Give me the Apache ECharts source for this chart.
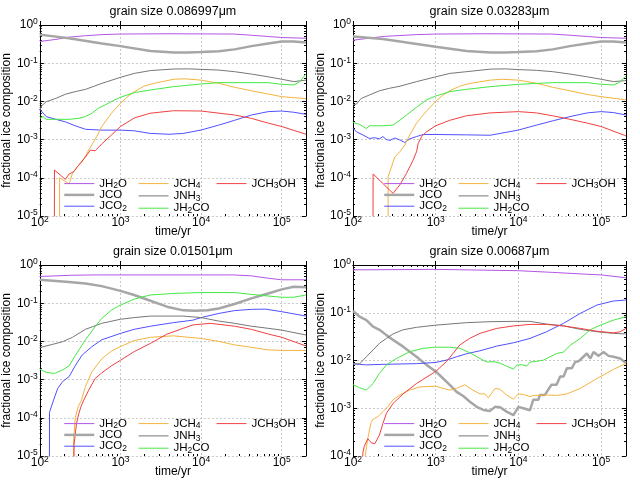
<!DOCTYPE html>
<html>
<head>
<meta charset="utf-8">
<script src="https://cdn.jsdelivr.net/npm/echarts@6/dist/echarts.min.js"></script>
<style>
html, body { margin: 0; padding: 0; background: #fff; }
#main { width: 640px; height: 480px; }
</style>
</head>
<body>
<div id="main"></div>
<script>
// ---- data: [time/yr, fraction] ----
var p1H2O = [[100,0.37],[158,0.42],[230,0.48],[370,0.525],[590,0.56],[1000,0.58],[4000,0.59],[25000,0.58],[42000,0.54],[68000,0.5],[100000,0.47],[200000,0.45]];
var p1CO = [[100,0.56],[230,0.45],[590,0.33],[1000,0.28],[2350,0.21],[4600,0.19],[7000,0.19],[10000,0.195],[16600,0.205],[26000,0.23],[42000,0.28],[68000,0.33],[100000,0.37],[141000,0.37],[200000,0.35]];
var p1CO2 = [[100,6.2e-3],[120,4.0e-3],[158,3.4e-3],[209,2.9e-3],[275,2.3e-3],[370,1.86e-3],[590,1.77e-3],[1000,1.77e-3],[1480,1.7e-3],[2350,1.45e-3],[4000,1.38e-3],[6000,1.45e-3],[10000,1.78e-3],[16600,2.4e-3],[26000,3.2e-3],[42000,4.4e-3],[68000,5.4e-3],[100000,5.6e-3],[141000,5.2e-3],[200000,4.6e-3]];
var p1CH4 = [[175,1e-7],[176,1.0e-4],[231,6.9e-5],[254,1.3e-4],[292,1.95e-4],[335,2.6e-4],[404,5.3e-4],[509,1.2e-3],[586,2.2e-3],[774,4.9e-3],[1000,8.9e-3],[1230,0.0133],[1480,0.0178],[1950,0.025],[2570,0.0295],[4550,0.038],[6300,0.039],[10000,0.036],[16600,0.0297],[26000,0.0234],[42000,0.019],[68000,0.0156],[100000,0.0133],[200000,0.0118]];
var p1NH3 = [[100,6.0e-3],[105,7.6e-3],[120,9.8e-3],[158,0.012],[209,0.0155],[275,0.018],[370,0.0207],[590,0.0297],[1000,0.0427],[1480,0.054],[2350,0.064],[4600,0.0705],[7000,0.071],[10000,0.069],[16600,0.066],[26000,0.06],[42000,0.052],[68000,0.044],[100000,0.038],[141000,0.033],[200000,0.036]];
var p1H2CO = [[100,3.6e-3],[110,4.0e-3],[120,3.4e-3],[145,3.4e-3],[230,3.4e-3],[305,3.6e-3],[368,4.0e-3],[443,4.9e-3],[533,6.6e-3],[646,8.1e-3],[850,0.011],[1000,0.0128],[1480,0.017],[2350,0.0199],[4550,0.0243],[10000,0.0285],[16600,0.031],[68000,0.031],[100000,0.028],[141000,0.027],[165000,0.032],[200000,0.052]];
var p1CH3OH = [[151,1e-7],[152,1.6e-4],[207,9.1e-5],[231,1.26e-4],[265,1.45e-4],[292,1.95e-4],[368,3.5e-4],[423,5.3e-4],[486,5.1e-4],[586,7.7e-4],[774,1.32e-3],[1000,2.2e-3],[1490,3.7e-3],[2330,4.9e-3],[4550,5.7e-3],[10000,5.6e-3],[26000,4.4e-3],[42000,3.6e-3],[68000,2.7e-3],[100000,2.2e-3],[200000,1.38e-3]];

var p2H2O = [[100,0.4],[230,0.5],[590,0.56],[1000,0.58],[4000,0.59],[25000,0.58],[42000,0.54],[68000,0.5],[100000,0.47],[200000,0.45]];
var p2CO = [[100,0.5],[230,0.43],[590,0.32],[1000,0.27],[2350,0.21],[4600,0.19],[7000,0.19],[10000,0.195],[16600,0.205],[26000,0.23],[42000,0.28],[68000,0.33],[100000,0.37],[141000,0.37],[200000,0.35]];
var p2CO2 = [[100,2.0e-3],[110,1.6e-3],[132,1.32e-3],[158,1.07e-3],[183,1.12e-3],[209,1.05e-3],[230,1.2e-3],[254,1.0e-3],[278,0.95e-3],[320,1.1e-3],[368,0.98e-3],[423,0.84e-3],[486,1.05e-3],[586,1.2e-3],[706,1.36e-3],[1000,1.36e-3],[2350,1.33e-3],[4550,1.3e-3],[6000,1.45e-3],[10000,1.78e-3],[16600,2.4e-3],[26000,3.1e-3],[42000,4.0e-3],[68000,5.0e-3],[100000,5.4e-3],[141000,5.1e-3],[200000,4.4e-3]];
var p2CH4 = [[265,1e-7],[266,1.07e-4],[292,1.95e-4],[320,3.5e-4],[368,4.8e-4],[423,7.2e-4],[486,1.32e-3],[586,2.7e-3],[706,4.4e-3],[850,7e-3],[1000,0.01],[1230,0.0147],[1480,0.019],[1950,0.025],[2570,0.0295],[4550,0.036],[6300,0.038],[10000,0.036],[16600,0.0297],[26000,0.0234],[42000,0.019],[68000,0.0152],[100000,0.0133],[200000,0.011]];
var p2NH3 = [[100,8.1e-3],[110,8.5e-3],[126,0.012],[158,0.0147],[209,0.019],[275,0.022],[370,0.025],[590,0.033],[1000,0.044],[1480,0.054],[2350,0.06],[4600,0.07],[7000,0.071],[10000,0.068],[16600,0.065],[26000,0.06],[42000,0.052],[68000,0.044],[100000,0.038],[141000,0.033],[200000,0.035]];
var p2H2CO = [[100,2.8e-3],[120,2.5e-3],[145,1.94e-3],[158,2.3e-3],[230,2.3e-3],[305,2.4e-3],[368,3.2e-3],[443,4.4e-3],[586,7.0e-3],[775,0.011],[1000,0.0138],[1480,0.018],[2350,0.0207],[4550,0.0243],[10000,0.028],[26000,0.031],[68000,0.031],[100000,0.028],[141000,0.027],[165000,0.031],[200000,0.046]];
var p2CH3OH = [[174,1e-7],[175,1.26e-4],[305,3.9e-5],[368,6.5e-5],[443,1.3e-4],[533,2.9e-4],[586,4.8e-4],[614,7.9e-4],[676,1.2e-3],[774,1.6e-3],[1000,2.3e-3],[1480,3.2e-3],[2350,4.2e-3],[4550,5.0e-3],[10000,5.4e-3],[16600,5.0e-3],[26000,4.2e-3],[42000,3.4e-3],[68000,2.7e-3],[100000,2.2e-3],[200000,1.25e-3]];

var p3H2O = [[100,0.5],[250,0.54],[500,0.55],[25000,0.55],[42000,0.52],[68000,0.45],[100000,0.41],[200000,0.41]];
var p3CO = [[100,0.41],[230,0.36],[368,0.33],[586,0.28],[1000,0.21],[1480,0.164],[2350,0.116],[3770,0.081],[6000,0.065],[8500,0.063],[12000,0.065],[16600,0.073],[26000,0.095],[42000,0.134],[68000,0.18],[100000,0.23],[141000,0.27],[200000,0.26]];
var p3CO2 = [[131,1e-7],[132,1.4e-4],[148,2.9e-4],[167,5.9e-4],[192,8.9e-4],[231,1.2e-3],[278,2.4e-3],[335,4.4e-3],[443,7.3e-3],[586,0.011],[1000,0.0162],[1480,0.0207],[2360,0.025],[4540,0.031],[7920,0.036],[10000,0.042],[16600,0.054],[26000,0.064],[42000,0.069],[63000,0.07],[100000,0.06],[200000,0.046]];
var p3CH4 = [[261,1e-7],[262,2.5e-5],[275,1e-4],[300,2e-4],[329,2.9e-4],[368,6.6e-4],[443,1.6e-3],[586,3.5e-3],[775,5.6e-3],[1000,7.3e-3],[1480,0.0105],[2360,0.0128],[4540,0.014],[7900,0.0125],[10000,0.012],[16600,0.01],[26000,0.0081],[42000,0.007],[68000,0.006],[100000,0.0058],[200000,0.0058]];
var p3NH3 = [[100,6.9e-3],[145,8.4e-3],[192,9.8e-3],[254,0.0128],[368,0.0207],[586,0.0297],[1000,0.038],[1480,0.042],[2350,0.046],[6000,0.046],[10000,0.042],[16600,0.034],[26000,0.0297],[42000,0.025],[68000,0.022],[100000,0.0197],[200000,0.0147]];
var p3H2CO = [[100,1.86e-3],[120,1.55e-3],[152,1.45e-3],[192,1.8e-3],[231,2.3e-3],[278,4.4e-3],[368,0.011],[486,0.0243],[586,0.04],[774,0.066],[1000,0.089],[1480,0.128],[2350,0.164],[4550,0.18],[10000,0.19],[26000,0.19],[42000,0.17],[100000,0.143],[141000,0.143],[200000,0.164]];
var p3CH3OH = [[265,1e-7],[266,2e-5],[285,7e-5],[305,1.3e-4],[325,2e-4],[351,2.9e-4],[404,5.3e-4],[486,1.07e-3],[586,1.5e-3],[775,2.3e-3],[1000,3.2e-3],[1480,5.4e-3],[2360,8.9e-3],[3770,0.0155],[6000,0.022],[7920,0.027],[13000,0.0297],[26000,0.025],[42000,0.0207],[68000,0.0156],[100000,0.0128],[200000,0.0076]];

var p4H2O = [[100,0.79],[1000,0.81],[10000,0.76],[26000,0.70],[68000,0.64],[100000,0.62],[200000,0.54]];
var p4CO = [[100,0.109],[120,0.083],[145,0.07],[175,0.051],[209,0.044],[254,0.034],[305,0.027],[404,0.0195],[586,0.012],[774,8.1e-3],[1000,5.9e-3],[1230,4.2e-3],[1480,3.1e-3],[1790,2.2e-3],[2150,1.8e-3],[2590,1.37e-3],[3130,1.07e-3],[3770,9.2e-4],[4540,8.8e-4],[5210,1.07e-3],[6000,1.05e-3],[7200,8.5e-4],[8710,7.2e-4],[10000,1.07e-3],[11500,1.0e-3],[13800,9.1e-4],[15100,1.5e-3],[17400,1.5e-3],[18200,1.9e-3],[20900,1.9e-3],[25100,3.1e-3],[28900,3.1e-3],[32000,4.6e-3],[35100,4.6e-3],[38600,6.9e-3],[44300,6.9e-3],[48600,9.3e-3],[53300,9.6e-3],[67300,0.014],[74000,0.011],[81000,0.015],[93400,0.0125],[107000,0.015],[123000,0.0125],[141000,0.012],[170000,0.011],[200000,8.9e-3]];
var p4CO2 = [[100,8.5e-3],[120,8.3e-3],[145,8.1e-3],[230,8.3e-3],[586,8.6e-3],[1000,9.1e-3],[1350,0.0102],[1790,0.012],[2350,0.0138],[3430,0.016],[5460,0.02],[8710,0.0235],[13800,0.029],[21900,0.04],[35100,0.06],[56000,0.097],[89000,0.145],[141000,0.176],[200000,0.185]];
var p4CH4 = [[138,8e-5],[150,2.2e-4],[165,5e-4],[175,5.9e-4],[200,6.7e-4],[231,8.5e-4],[265,1.1e-3],[305,1.5e-3],[368,1.9e-3],[486,2.4e-3],[646,2.8e-3],[1000,2.9e-3],[1230,2.6e-3],[1480,2.4e-3],[1790,2.6e-3],[2240,3.1e-3],[2820,2.4e-3],[3430,2.0e-3],[3950,2.0e-3],[4330,1.65e-3],[5210,2.6e-3],[6000,2.5e-3],[7200,1.9e-3],[8710,1.55e-3],[10000,2.0e-3],[11500,1.95e-3],[13800,1.75e-3],[15100,1.85e-3],[21900,1.9e-3],[28900,1.85e-3],[38600,2.0e-3],[56000,2.6e-3],[89000,4.2e-3],[141000,6.5e-3],[200000,8.7e-3]];
var p4NH3 = [[100,8.5e-3],[120,8.5e-3],[145,0.012],[175,0.0166],[209,0.023],[254,0.029],[305,0.036],[404,0.044],[586,0.0495],[1000,0.055],[2350,0.062],[4540,0.065],[8710,0.066],[13800,0.066],[21900,0.058],[35100,0.053],[56000,0.045],[89000,0.04],[141000,0.037],[200000,0.036]];
var p4H2CO = [[100,3.1e-3],[120,2.7e-3],[145,2.4e-3],[175,3.3e-3],[209,5.4e-3],[254,8.1e-3],[335,0.011],[486,0.0153],[706,0.018],[1000,0.019],[1480,0.019],[1950,0.018],[2570,0.0146],[3430,0.011],[4130,9.3e-3],[4970,9.5e-3],[6000,8.8e-3],[7200,7.6e-3],[8710,6.6e-3],[9550,8.0e-3],[11000,8.2e-3],[12600,7.6e-3],[13800,9.3e-3],[16600,9.6e-3],[20100,0.0102],[24200,0.012],[28900,0.014],[35100,0.015],[42400,0.021],[56000,0.029],[74000,0.044],[98000,0.055],[141000,0.07],[200000,0.083]];
var p4CH3OH = [[130,8e-5],[132,1.2e-4],[137,1.6e-4],[151,2.3e-4],[166,1.9e-4],[183,1.8e-4],[209,2.75e-4],[230,4.8e-4],[254,7.9e-4],[305,1.26e-3],[404,2.0e-3],[586,3.3e-3],[1000,5.9e-3],[1350,9.5e-3],[1620,0.014],[1950,0.021],[2570,0.029],[3430,0.037],[5460,0.047],[8710,0.053],[13800,0.057],[21900,0.057],[35100,0.053],[56000,0.047],[89000,0.041],[141000,0.038],[170000,0.04],[200000,0.047]];

var titles = ['grain size 0.086997\u03bcm', 'grain size 0.03283\u03bcm', 'grain size 0.01501\u03bcm', 'grain size 0.00687\u03bcm'];
var yMins = [1e-5, 1e-5, 1e-5, 1e-4];
var species = ['JH2O', 'JCO', 'JCO2', 'JCH4', 'JNH3', 'JH2CO', 'JCH3OH'];
var panels = [
    [p1H2O, p1CO, p1CO2, p1CH4, p1NH3, p1H2CO, p1CH3OH],
    [p2H2O, p2CO, p2CO2, p2CH4, p2NH3, p2H2CO, p2CH3OH],
    [p3H2O, p3CO, p3CO2, p3CH4, p3NH3, p3H2CO, p3CH3OH],
    [p4H2O, p4CO, p4CO2, p4CH4, p4NH3, p4H2CO, p4CH3OH]
];

var colors = ['#b355e6', '#a6a6a6', '#5050ff', '#f2b440', '#777777', '#44e844', '#f04040'];
var widths = [1, 2.5, 1, 1, 1, 1, 1];
var legendText = {
    JH2O: 'JH{s|2}O', JCO: 'JCO', JCO2: 'JCO{s|2}', JCH4: 'JCH{s|4}',
    JNH3: 'JNH{s|3}', JH2CO: 'JH{s|2}CO', JCH3OH: 'JCH{s|3}OH'
};
var legendCols = [['JH2O', 'JCO', 'JCO2'], ['JCH4', 'JNH3', 'JH2CO'], ['JCH3OH']];
var legendColX = [63, 138, 216];

var FONT = 'Liberation Sans, Arial, sans-serif';

// minor tick positions (log10 space) for the overlaid tick-only axes
function minorTicks(lo, hi) {
    var out = [];
    for (var k = lo; k < hi; k++) {
        for (var m = 2; m <= 9; m++) out.push(k + Math.log10(m));
    }
    return out;
}

function powLabel(v) {
    var e = Math.log10(v);
    var r = Math.round(e);
    if (Math.abs(e - r) > 1e-6) return '';
    return '{b|10}{p|' + r + '}';
}

var labelRich = {
    b: { fontSize: 12, lineHeight: 12, fontFamily: FONT, color: '#000' },
    p: { fontSize: 8.5, lineHeight: 12, fontFamily: FONT, color: '#000', padding: [0, 0, 6, 0] }
};

var chart = echarts.init(document.getElementById('main'));

var grids = [], xAxes = [], yAxes = [], series = [], legends = [];
var XMAX = 2e5;

for (var i = 0; i < 4; i++) {
    var c = i % 2, r = Math.floor(i / 2);
    var gl = 33 + 320 * c, gt = 25 + 240 * r;
    grids.push({ left: gl, top: gt, width: 273, height: 191 });

    var lineSt = { lineStyle: { color: '#000', width: 1 } };
    // bottom log axis
    xAxes.push({
        type: 'log', gridIndex: i, position: 'bottom', min: 100, max: XMAX,
        name: 'time/yr', nameLocation: 'middle', nameGap: 10, nameMoveOverlap: false,
        nameTextStyle: { fontSize: 12, fontFamily: FONT, color: '#000', verticalAlign: 'top' },
        axisLine: lineSt,
        axisTick: { inside: true, length: 4, lineStyle: { color: '#000' } },
        axisLabel: { formatter: powLabel, rich: labelRich, margin: 1, color: '#000' },
        splitLine: { show: true, lineStyle: { color: '#bbbbbb', width: 0.8, type: [2, 2] } }
    });
    // top mirror, carries the panel title
    xAxes.push({
        type: 'log', gridIndex: i, position: 'top', min: 100, max: XMAX,
        name: titles[i], nameLocation: 'middle', nameGap: 7,
        nameTextStyle: { fontSize: 12.5, fontFamily: FONT, color: '#000' },
        axisLine: lineSt,
        axisTick: { inside: true, length: 4, lineStyle: { color: '#000' } },
        axisLabel: { show: false }, splitLine: { show: false }
    });
    ['bottom', 'top'].forEach(function (pos) {
        xAxes.push({
            type: 'value', gridIndex: i, position: pos, min: 2, max: Math.log10(XMAX),
            axisLine: { show: false }, axisLabel: { show: false }, splitLine: { show: false },
            axisTick: { inside: true, length: 2, customValues: minorTicks(2, 5), lineStyle: { color: '#000' } }
        });
    });

    var ylo = Math.log10(yMins[i]);
    yAxes.push({
        type: 'log', gridIndex: i, position: 'left', min: yMins[i], max: 1,
        name: 'fractional ice composition', nameLocation: 'middle', nameGap: 20,
        nameTextStyle: { fontSize: 12, fontFamily: FONT, color: '#000' },
        axisLine: lineSt,
        axisTick: { inside: true, length: 4, lineStyle: { color: '#000' } },
        axisLabel: { formatter: powLabel, rich: labelRich, margin: 2, color: '#000' },
        splitLine: { show: true, lineStyle: { color: '#bbbbbb', width: 0.8, type: [2, 2] } }
    });
    yAxes.push({
        type: 'log', gridIndex: i, position: 'right', min: yMins[i], max: 1,
        axisLine: lineSt,
        axisTick: { inside: true, length: 4, lineStyle: { color: '#000' } },
        axisLabel: { show: false }, splitLine: { show: false }
    });
    ['left', 'right'].forEach(function (pos) {
        yAxes.push({
            type: 'value', gridIndex: i, position: pos, min: ylo, max: 0,
            axisLine: { show: false }, axisLabel: { show: false }, splitLine: { show: false },
            axisTick: { inside: true, length: 2, customValues: minorTicks(ylo, 0), lineStyle: { color: '#000' } }
        });
    });

    for (var k = 0; k < species.length; k++) {
        series.push({
            type: 'line', name: species[k],
            xAxisIndex: 4 * i, yAxisIndex: 4 * i,
            data: panels[i][k],
            symbol: 'none', showSymbol: false, silent: true,
            lineStyle: { color: colors[k], width: widths[k] },
            itemStyle: { color: colors[k] },
            animation: false
        });
    }

    legendCols.forEach(function (list, j) {
        legends.push({
            orient: 'vertical', left: gl - 33 + legendColX[j], top: gt + 151.6,
            padding: 0, itemGap: -1.7, itemWidth: 30, itemHeight: 8,
            selectedMode: false,
            itemStyle: { opacity: 0 },
            data: list.map(function (n) {
                return { name: n, lineStyle: { width: n === 'JCO' ? 2.5 : 1 } };
            }),
            formatter: function (n) { return legendText[n]; },
            textStyle: {
                fontSize: 11.5, fontFamily: FONT, color: '#000', lineHeight: 11.8,
                rich: { s: { fontSize: 8.5, fontFamily: FONT, color: '#000', lineHeight: 11.8, padding: [5, 0, 0, 0] } }
            }
        });
    });
}

var option = {
    backgroundColor: '#fff',
    animation: false,
    grid: grids,
    xAxis: xAxes,
    yAxis: yAxes,
    legend: legends,
    series: series
};

chart.setOption(option);
</script>
</body>
</html>
